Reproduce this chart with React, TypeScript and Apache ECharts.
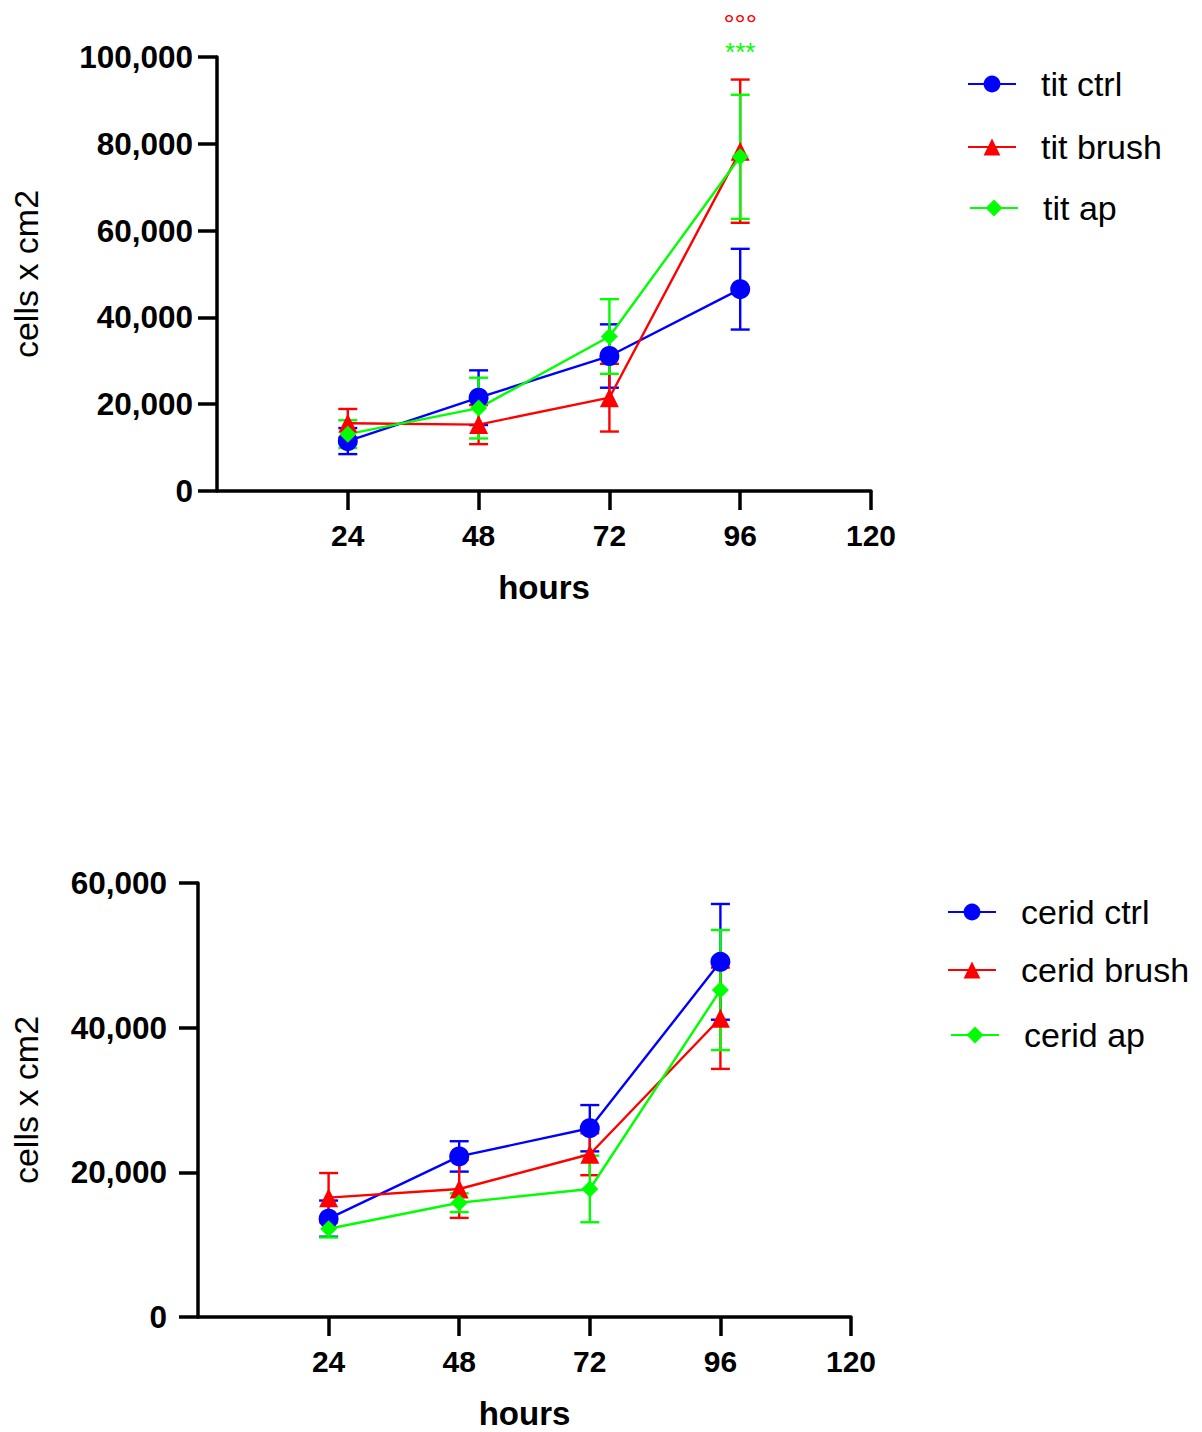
import React, { useEffect, useRef } from "react";
import * as echarts from "echarts";

const FONT = "Arial, 'Liberation Sans', Helvetica, sans-serif";

const hours = [24, 48, 72, 96];
const xTickValues = [24, 48, 72, 96, 120];

// top chart (tit)
const titCtrlMean = [11500, 21500, 31100, 46500];
const titCtrlSd = [3000, 6300, 7300, 9300];
const titBrushMean = [15600, 15300, 21500, 78300];
const titBrushSd = [3300, 4500, 7800, 16500];
const titApMean = [13100, 19100, 35600, 77000];
const titApSd = [3200, 7000, 8600, 14300];

// bottom chart (cerid)
const ceridCtrlMean = [13600, 22200, 26100, 49100];
const ceridCtrlSd = [2500, 2100, 3200, 8000];
const ceridBrushMean = [16500, 17700, 22500, 41300];
const ceridBrushSd = [3400, 4000, 2900, 7000];
const ceridApMean = [12200, 15800, 17700, 45200];
const ceridApSd = [1200, 1300, 4600, 8300];

// significance annotations at 96 h (top chart)
const annotHour = 96;
const annotCircles = { text: "°°°", y: 107600, size: 28 };
const annotStars = { text: "***", y: 101200, size: 26 };

const BLUE = "#0000ff";
const RED = "#ff0000";
const GREEN = "#00ff00";
const LW = 2.4;

const pts = (mean: number[]) => hours.map((h, i) => [h, mean[i]]);
const errs = (mean: number[], sd: number[]) =>
  hours.map((h, i) => [h, mean[i] - sd[i], mean[i] + sd[i]]);

const errRender = (color: string) => (params: any, api: any) => {
  const x = api.value(0);
  const lo = api.coord([x, api.value(1)]);
  const hi = api.coord([x, api.value(2)]);
  const w = 9.5;
  const style = { stroke: color, lineWidth: LW };
  return {
    type: "group",
    children: [
      { type: "line", shape: { x1: hi[0], y1: hi[1], x2: lo[0], y2: lo[1] }, style },
      { type: "line", shape: { x1: hi[0] - w, y1: hi[1], x2: hi[0] + w, y2: hi[1] }, style },
      { type: "line", shape: { x1: lo[0] - w, y1: lo[1], x2: lo[0] + w, y2: lo[1] }, style },
    ],
  };
};

const errSeries = (name: string, color: string, mean: number[], sd: number[], idx: number) => ({
  name: name + " err",
  type: "custom",
  xAxisIndex: idx,
  yAxisIndex: idx,
  renderItem: errRender(color),
  encode: { x: 0, y: [1, 2] },
  data: errs(mean, sd),
  clip: false,
  z: 2,
  silent: true,
});

const lineSeries = (
  name: string,
  color: string,
  symbol: string,
  size: number,
  mean: number[],
  idx: number
) => ({
  name,
  type: "line",
  xAxisIndex: idx,
  yAxisIndex: idx,
  data: pts(mean),
  symbol,
  symbolSize: size,
  showSymbol: true,
  lineStyle: { color, width: LW },
  itemStyle: { color },
  z: 3,
});

const annotSeries = (text: string, y: number, size: number, color: string) => ({
  name: "annot " + text,
  type: "custom",
  xAxisIndex: 0,
  yAxisIndex: 0,
  clip: false,
  silent: true,
  z: 5,
  data: [[annotHour, y]],
  renderItem: (params: any, api: any) => {
    const p = api.coord([api.value(0), api.value(1)]);
    return {
      type: "text",
      x: p[0],
      y: p[1],
      style: {
        text,
        fill: color,
        fontSize: size,
        fontFamily: FONT,
        align: "center",
        verticalAlign: "middle",
      },
    };
  },
});

const legendItem = (name: string, left: number, centerY: number) => ({
  data: [name],
  left,
  top: centerY - 17,
  orient: "vertical",
  padding: 0,
  itemWidth: 48,
  itemHeight: 21,
  selectedMode: false,
  textStyle: { fontSize: 34, color: "#000", fontFamily: FONT, padding: [0, 0, 0, 20] },
});

const makeX = (idx: number) => ({
  type: "value",
  gridIndex: idx,
  min: 0,
  max: 120,
  interval: 24,
  name: "hours",
  nameLocation: "middle",
  nameGap: 80,
  nameTextStyle: { fontSize: 33, fontWeight: "bold", color: "#000", fontFamily: FONT },
  axisLine: { show: true, lineStyle: { color: "#000", width: 3.5 } },
  axisTick: {
    show: true,
    length: 19,
    lineStyle: { color: "#000", width: 3.5 },
    customValues: xTickValues,
  },
  axisLabel: {
    fontSize: 30,
    fontWeight: "bold",
    color: "#000",
    fontFamily: FONT,
    margin: 29,
    customValues: xTickValues,
  },
  splitLine: { show: false },
});

const makeY = (idx: number, max: number, labelMargin: number, nameGap: number) => ({
  type: "value",
  gridIndex: idx,
  min: 0,
  max,
  interval: 20000,
  name: "cells x cm2",
  nameLocation: "middle",
  nameGap,
  nameTextStyle: { fontSize: 34, color: "#000", fontFamily: FONT },
  axisLine: { show: true, lineStyle: { color: "#000", width: 3.5 } },
  axisTick: { show: true, length: 19, lineStyle: { color: "#000", width: 3.5 } },
  axisLabel: {
    fontSize: 31.5,
    fontWeight: "bold",
    color: "#000",
    fontFamily: FONT,
    margin: labelMargin,
    formatter: (v: number) => v.toLocaleString("en-US"),
  },
  splitLine: { show: false },
});

export default function App() {
  const ref = useRef<HTMLDivElement>(null);
  useEffect(() => {
    document.body.style.margin = "0";
    if (!ref.current) return;
    const chart = echarts.init(ref.current, null, { renderer: "svg" });
    chart.setOption({
      animation: false,
      backgroundColor: "#fff",
      textStyle: { fontFamily: FONT },
      grid: [
        { left: 217, top: 57, width: 654, height: 434 },
        { left: 198, top: 883, width: 653, height: 434 },
      ],
      xAxis: [makeX(0), makeX(1)],
      yAxis: [makeY(0, 100000, 24, 174), makeY(1, 60000, 31, 155)],
      legend: [
        legendItem("tit ctrl", 967, 84),
        legendItem("tit brush", 967, 147),
        legendItem("tit ap", 969, 208),
        legendItem("cerid ctrl", 947, 912),
        legendItem("cerid brush", 947, 970),
        legendItem("cerid ap", 950, 1035),
      ],
      series: [
        errSeries("tit ctrl", BLUE, titCtrlMean, titCtrlSd, 0),
        errSeries("tit brush", RED, titBrushMean, titBrushSd, 0),
        errSeries("tit ap", GREEN, titApMean, titApSd, 0),
        lineSeries("tit ctrl", BLUE, "circle", 20, titCtrlMean, 0),
        lineSeries("tit brush", RED, "triangle", 19, titBrushMean, 0),
        lineSeries("tit ap", GREEN, "diamond", 17, titApMean, 0),
        annotSeries(annotCircles.text, annotCircles.y, annotCircles.size, RED),
        annotSeries(annotStars.text, annotStars.y, annotStars.size, GREEN),
        errSeries("cerid ctrl", BLUE, ceridCtrlMean, ceridCtrlSd, 1),
        errSeries("cerid brush", RED, ceridBrushMean, ceridBrushSd, 1),
        errSeries("cerid ap", GREEN, ceridApMean, ceridApSd, 1),
        lineSeries("cerid ctrl", BLUE, "circle", 20, ceridCtrlMean, 1),
        lineSeries("cerid brush", RED, "triangle", 19, ceridBrushMean, 1),
        lineSeries("cerid ap", GREEN, "diamond", 17, ceridApMean, 1),
      ],
    });
    return () => chart.dispose();
  }, []);
  return <div ref={ref} style={{ width: 1202, height: 1432 }} />;
}
